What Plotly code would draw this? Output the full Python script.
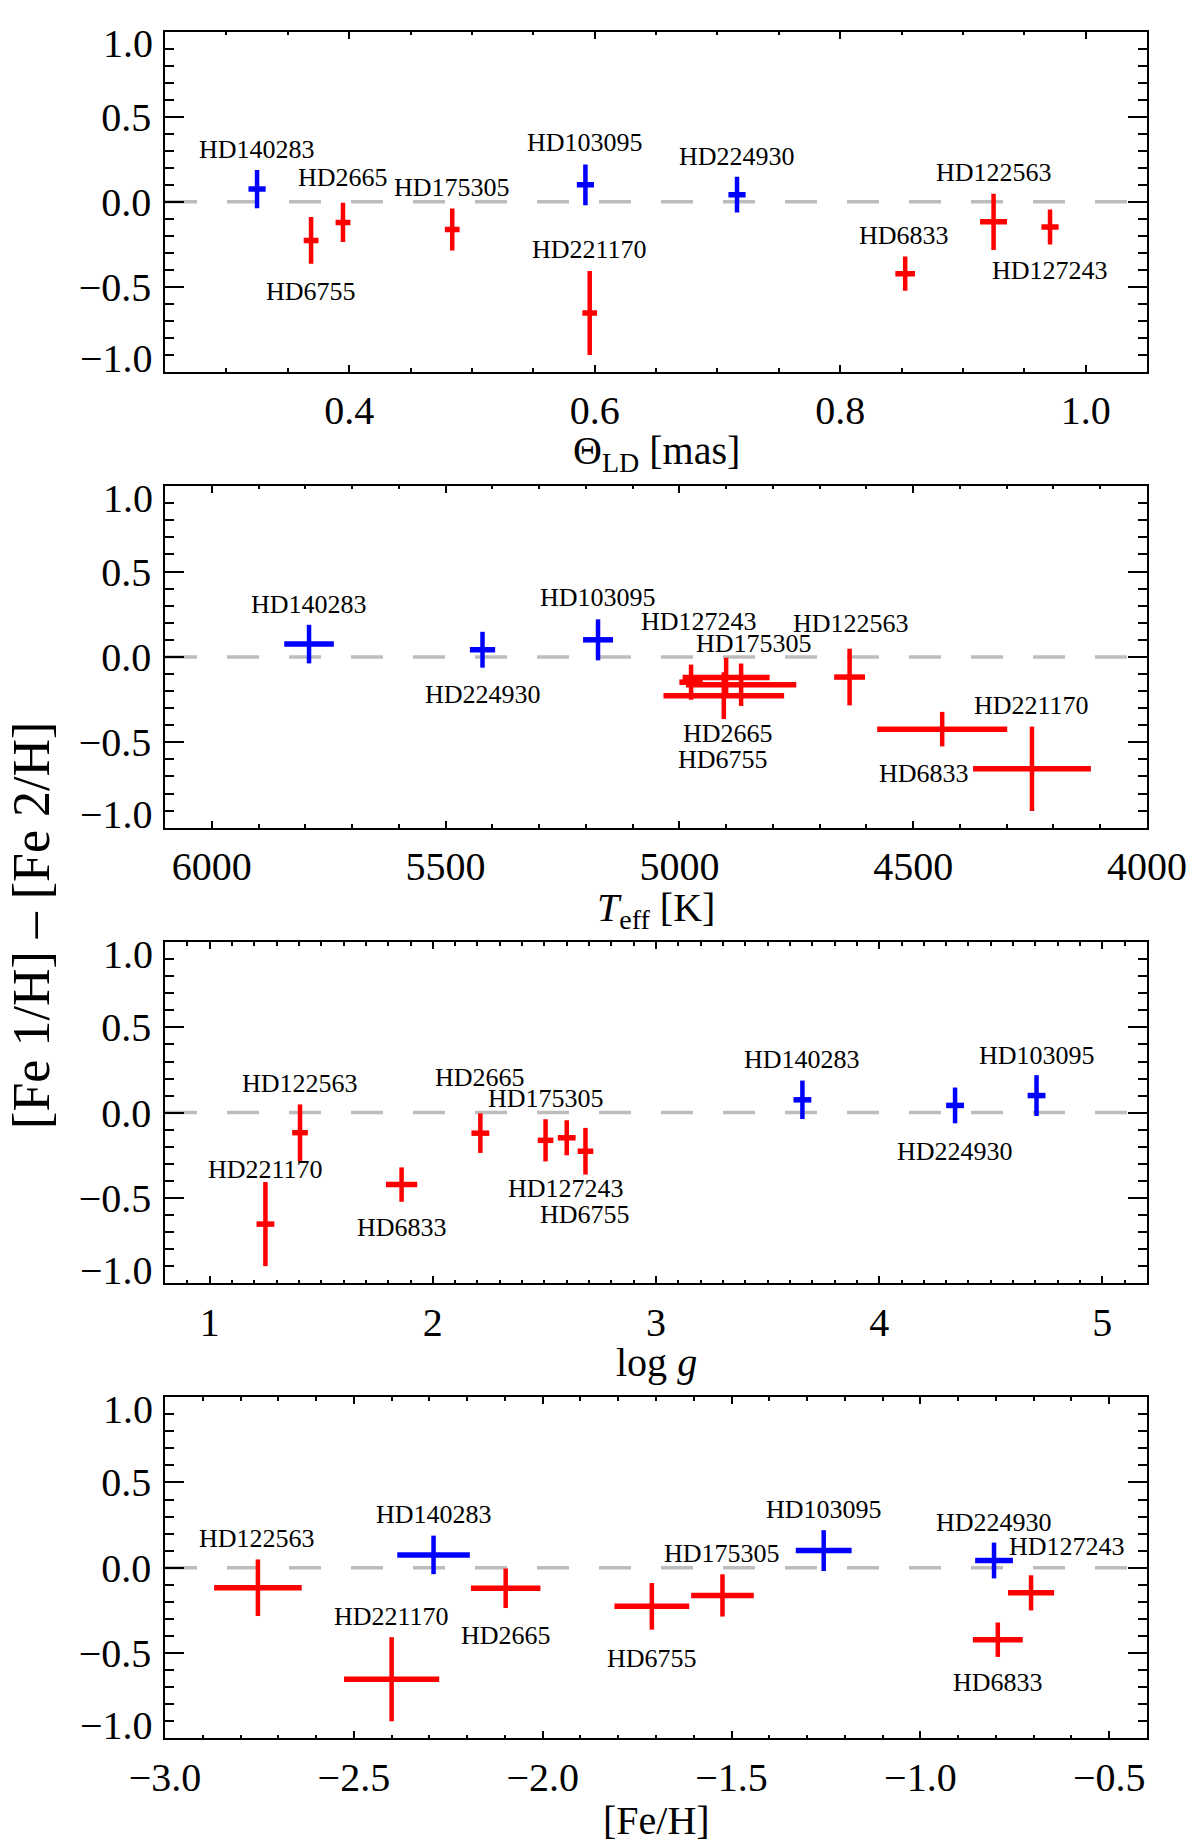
import plotly.graph_objects as go

# ---------------- data ----------------
STARS = ["HD140283", "HD6755", "HD2665", "HD175305", "HD103095",
         "HD221170", "HD224930", "HD6833", "HD122563", "HD127243"]
IS_DWARF = [True, False, False, False, True, False, True, False, False, False]

DFE = [0.075, -0.227, -0.121, -0.163, 0.100, -0.655, 0.042, -0.423, -0.118, -0.148]
DFE_ERR = [0.113, 0.137, 0.116, 0.124, 0.120, 0.247, 0.105, 0.101, 0.166, 0.103]

THETA = [0.325, 0.369, 0.395, 0.484, 0.5925, 0.596, 0.716, 0.853, 0.925, 0.971]
THETA_ERR = [0.007, 0.006, 0.006, 0.006, 0.007, 0.006, 0.007, 0.008, 0.011, 0.007]

TEFF = [5792, 4905, 4900, 4868, 5174, 4246, 5421, 4438, 4636, 4975]
TEFF_ERR = [53, 129, 93, 118, 32, 126, 27, 139, 33, 25]

LOGG = [3.656, 2.684, 2.213, 2.505, 4.705, 1.250, 4.340, 1.860, 1.405, 2.600]
LOGG_ERR = [0.04, 0.035, 0.04, 0.035, 0.04, 0.04, 0.04, 0.07, 0.035, 0.04]

FEH = [-2.289, -1.711, -2.098, -1.524, -1.256, -2.400, -0.805, -0.795, -2.754, -0.707]
FEH_ERR = [0.096, 0.099, 0.092, 0.083, 0.074, 0.126, 0.050, 0.066, 0.116, 0.061]

X_TITLES = ["Θ<sub>LD</sub> [mas]", "<i>T</i><sub>eff</sub> [K]", "log <i>g</i>", "[Fe/H]"]
Y_TITLE = "[Fe 1/H] – [Fe 2/H]"

# ---------------- layout / style (not data) ----------------
# label offsets in pixels (xshift, yshift) relative to each point, per panel
LABEL_OFFSETS = [
    {"HD140283": (0, 40), "HD6755": (0, -51), "HD2665": (0, 45), "HD175305": (0, 42),
     "HD103095": (0, 42), "HD221170": (0, 64), "HD224930": (0, 38), "HD6833": (-1, 38),
     "HD122563": (0, 49), "HD127243": (0, -44)},
    {"HD140283": (0, 40), "HD6755": (-1, -64), "HD2665": (2, -56), "HD175305": (13, 41),
     "HD103095": (0, 42), "HD221170": (0, 63), "HD224930": (0, -45), "HD6833": (-18, -44),
     "HD122563": (1, 54), "HD127243": (8, 61)},
    {"HD140283": (0, 40), "HD6755": (0, -63), "HD2665": (0, 56), "HD175305": (0, 42),
     "HD103095": (0, 40), "HD221170": (0, 55), "HD224930": (0, -46), "HD6833": (0, -43),
     "HD122563": (0, 49), "HD127243": (-1, -51)},
    {"HD140283": (0, 40), "HD6755": (0, -52), "HD2665": (0, -47), "HD175305": (0, 42),
     "HD103095": (0, 41), "HD221170": (0, 63), "HD224930": (0, 38), "HD6833": (0, -43),
     "HD122563": (-1, 49), "HD127243": (36, 46)},
]

PANEL_X = [(THETA, THETA_ERR), (TEFF, TEFF_ERR), (LOGG, LOGG_ERR), (FEH, FEH_ERR)]
X_AXES = [
    dict(range=[0.25, 1.05], tick0=0, dtick=0.2, minor_dtick=0.05, fmt=".1f"),
    dict(range=[6100, 4000], tick0=0, dtick=500, minor_dtick=100, fmt="d"),
    dict(range=[0.8, 5.2], tick0=0, dtick=1, minor_dtick=0.1, fmt="d"),
    dict(range=[-3.0, -0.4], tick0=0, dtick=0.5, minor_dtick=0.1, fmt=".1f"),
]
DOMAINS = [[0.8009, 1.0], [0.5336, 0.7338], [0.2668, 0.4664], [0.0, 0.1997]]
TITLE_SHIFT = [-81, -82, -80, -82]

RED = "#ff0000"
BLUE = "#0000ff"
FONT = "Liberation Serif, Times New Roman, serif"
TICK_SIZE = 40
LABEL_SIZE = 26

fig = go.Figure()
# the page body adds an 8px margin; size/margins compensate for it
layout = dict(
    width=1192, height=1837,
    margin=dict(l=157, r=53, t=2, b=107),
    paper_bgcolor="white", plot_bgcolor="white",
    showlegend=False,
    font=dict(family=FONT, color="black", size=TICK_SIZE),
)
annotations = []
shapes = []

for p in range(4):
    n = "" if p == 0 else str(p + 1)
    xs, xerrs = PANEL_X[p]
    for dwarf, color in [(False, RED), (True, BLUE)]:
        idx = [i for i in range(len(STARS)) if IS_DWARF[i] == dwarf]
        fig.add_trace(go.Scatter(
            x=[xs[i] for i in idx], y=[DFE[i] for i in idx],
            mode="markers",
            marker=dict(size=1, color="rgba(0,0,0,0)"),
            error_x=dict(type="data", array=[xerrs[i] for i in idx], color=color,
                         thickness=5.5, width=0),
            error_y=dict(type="data", array=[DFE_ERR[i] for i in idx], color=color,
                         thickness=4.5, width=0),
            xaxis="x" + n, yaxis="y" + n, hoverinfo="skip",
        ))
    ax = X_AXES[p]
    layout["xaxis" + n] = dict(
        domain=[0, 1], anchor="y" + n, range=ax["range"],
        tickmode="linear", tick0=ax["tick0"], dtick=ax["dtick"], tickformat=ax["fmt"],
        ticks="inside", ticklen=7, tickwidth=1.5, tickcolor="black",
        minor=dict(dtick=ax["minor_dtick"], ticks="inside", ticklen=3.5,
                   tickwidth=1.5, tickcolor="black", showgrid=False),
        showline=True, linecolor="black", linewidth=1.5, mirror="ticks",
        showgrid=False, zeroline=False,
        tickfont=dict(family=FONT, size=TICK_SIZE, color="black"),
        ticklabelstandoff=3,
    )
    layout["yaxis" + n] = dict(
        domain=DOMAINS[p], anchor="x" + n, range=[-1.0, 1.0],
        tickmode="linear", tick0=0, dtick=0.5, tickformat=".1f",
        labelalias={"1.0": " ", "−1.0": " "},
        ticks="inside", ticklen=19, tickwidth=1.5, tickcolor="black",
        minor=dict(dtick=0.1, ticks="inside", ticklen=9.5, tickwidth=1.5,
                   tickcolor="black", showgrid=False),
        showline=True, linecolor="black", linewidth=1.5, mirror="ticks",
        showgrid=False, zeroline=False,
        tickfont=dict(family=FONT, size=TICK_SIZE, color="black"),
        ticklabelstandoff=4,
    )
    # end labels drawn slightly inside (as in the original)
    for val, txt in [(0.93, "1.0"), (-0.925, "−1.0")]:
        annotations.append(dict(
            xref="x" + n + " domain", yref="y" + n, x=0, y=val, text=txt,
            showarrow=False, xanchor="right", yanchor="middle", xshift=-10,
            font=dict(family=FONT, size=TICK_SIZE, color="black"),
        ))
    # zero line
    shapes.append(dict(
        type="line", xref="x" + n + " domain", yref="y" + n, x0=0, x1=1, y0=0, y1=0,
        line=dict(color="#bdbdbd", width=3.5, dash="32px,30px"), layer="below",
    ))
    # star labels
    for i, s in enumerate(STARS):
        dx, dy = LABEL_OFFSETS[p][s]
        annotations.append(dict(
            xref="x" + n, yref="y" + n, x=xs[i], y=DFE[i], text=s,
            showarrow=False, xanchor="center", yanchor="middle",
            xshift=dx, yshift=dy,
            font=dict(family=FONT, size=LABEL_SIZE, color="black"),
        ))
    # x-axis title
    annotations.append(dict(
        xref="x" + n + " domain", yref="y" + n + " domain", x=0.5, y=0,
        text=X_TITLES[p], showarrow=False, xanchor="center", yanchor="middle",
        yshift=TITLE_SHIFT[p], font=dict(family=FONT, size=TICK_SIZE, color="black"),
    ))

annotations.append(dict(
    xref="paper", yref="paper", x=-0.136, y=0.4763, text=Y_TITLE,
    textangle=-90, showarrow=False, xanchor="center", yanchor="middle",
    font=dict(family=FONT, size=52, color="black"),
))

layout["annotations"] = annotations
layout["shapes"] = shapes
fig.update_layout(**layout)
fig.write_html("out.html")
